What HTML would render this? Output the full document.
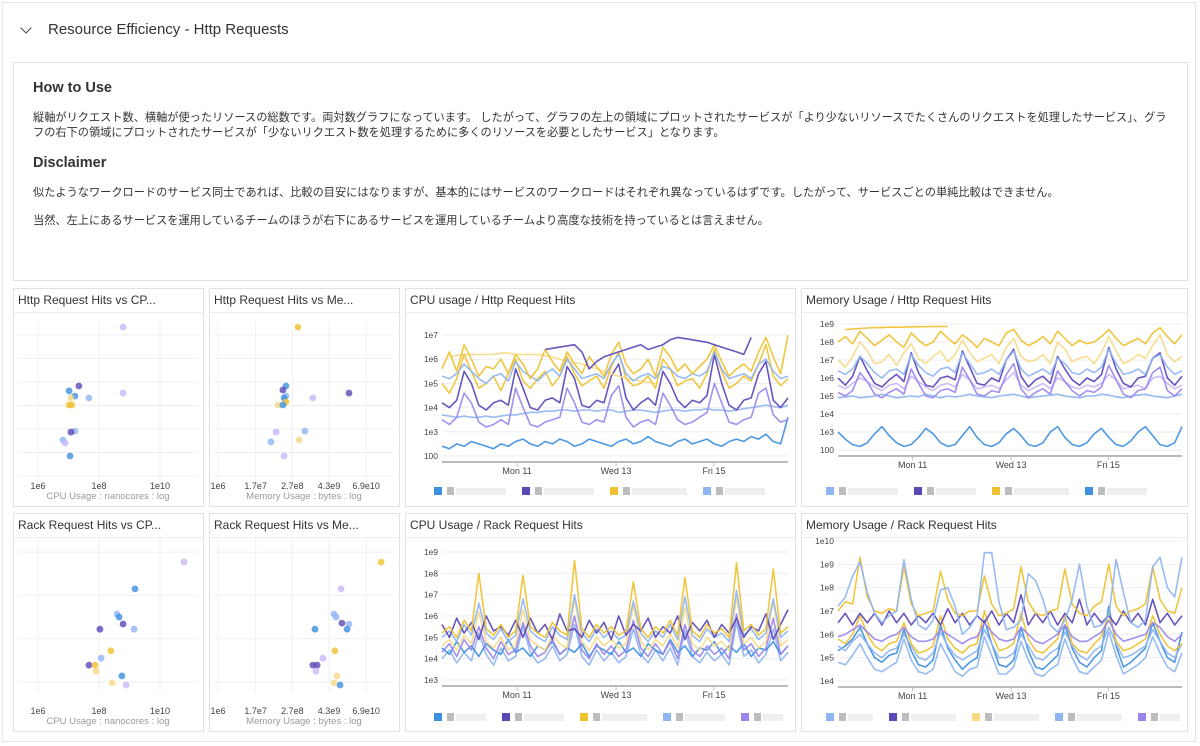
<!DOCTYPE html>
<html><head><meta charset="utf-8">
<style>
body{margin:0;width:1200px;height:746px;background:#fff;font-family:"Liberation Sans","Noto Sans CJK JP",sans-serif;position:relative;overflow:hidden}
#frame{position:absolute;left:2px;top:2px;width:1194px;height:740px;border:1px solid #e3e3e8;box-sizing:border-box}
#hdr{position:absolute;left:48px;top:21px;font-size:15px;color:#333}
#chev{position:absolute;left:22px;top:24px;width:7px;height:7px;border-right:1.6px solid #444;border-bottom:1.6px solid #444;transform:rotate(45deg)}
#note{position:absolute;left:13px;top:62px;width:1175px;height:219px;border:1px solid #e0e0e6;box-sizing:border-box;color:#333}
#note h3{position:absolute;left:19px;margin:0;font-size:14.5px;font-weight:bold}
#note p{position:absolute;left:19px;margin:0;font-size:11.2px;line-height:15px;width:1135px}
svg{position:absolute;left:0;top:0}
</style></head><body>
<div id="frame"></div>
<div id="chev"></div>
<div id="hdr">Resource Efficiency - Http Requests</div>
<div id="note">
<h3 style="top:17px">How to Use</h3>
<p style="top:48px">縦軸がリクエスト数、横軸が使ったリソースの総数です。両対数グラフになっています。 したがって、グラフの左上の領域にプロットされたサービスが「より少ないリソースでたくさんのリクエストを処理したサービス」、グラフの右下の領域にプロットされたサービスが「少ないリクエスト数を処理するために多くのリソースを必要としたサービス」となります。</p>
<h3 style="top:92px">Disclaimer</h3>
<p style="top:123px">似たようなワークロードのサービス同士であれば、比較の目安にはなりますが、基本的にはサービスのワークロードはそれぞれ異なっているはずです。したがって、サービスごとの単純比較はできません。</p>
<p style="top:151px">当然、左上にあるサービスを運用しているチームのほうが右下にあるサービスを運用しているチームより高度な技術を持っているとは言えません。</p>
</div>
<svg id="s" width="1200" height="746"></svg>
<script>
// ---------- data ----------
const C={b:'#3d8fe0',p:'#5b47b8',y:'#efc12f',lb:'#8fb5f2',lav:'#c8b6f7',ly:'#f6da86',mp:'#9a85ee'};
const sc1X=[8.79,8.79,7.02,7.34,7.21,7.08,7.02,7.11,7.67,7.21,7.08,6.82,6.89,7.05];
const sc1Y=[6.34,3.53,3.62,3.83,3.40,3.32,3.02,3.02,3.32,1.91,1.87,1.53,1.40,0.85];
const sc1C=['lav','lav','b','p','b','ly','y','y','lb','lb','p','lb','lav','b'];
const sc2X=[8.61,8.22,8.12,8.22,8.16,8.22,7.96,8.12,10.28,9.10,8.84,7.90,7.73,8.65,8.16];
const sc2Y=[6.34,3.83,3.66,3.40,3.32,3.15,3.02,3.02,3.53,3.32,1.91,1.87,1.45,1.53,0.85];
const sc2C=['y','b','p','lb','b','y','ly','b','p','lav','lb','lav','lb','ly','lav'];
const sc3X=[10.79,9.18,8.59,8.66,8.79,9.15,8.03,8.39,8.07,7.67,7.87,7.90,8.75,8.43,8.89];
const sc3Y=[3.77,3.15,2.57,2.50,2.34,2.22,2.22,1.72,1.55,1.39,1.39,1.25,1.14,0.98,0.93];
const sc3C=['lav','b','lb','b','p','lb','p','y','lb','p','y','ly','b','ly','lav'];
const sc4X=[11.33,10.02,9.79,9.86,10.05,10.28,10.22,9.17,9.82,9.43,9.10,9.24,9.20,9.89,9.79,9.99];
const sc4Y=[3.77,3.15,2.57,2.50,2.36,2.34,2.22,2.22,1.72,1.55,1.39,1.39,1.25,1.14,0.98,0.93];
const sc4C=['y','lav','lb','lb','p','lb','b','b','y','lav','p','p','lav','ly','ly','b'];
const cpuTicks=['1e6','1e8','1e10'], cpuTickV=[6,8,10];
const memTicks=['1e6','1.7e7','2.7e8','4.3e9','6.9e10'], memTickV=[6,7.23,8.43,9.63,10.84];
const dateLabels=['Mon 11','Wed 13','Fri 15'], dateFrac=[0.217,0.503,0.786];
const chS1=[2.4,2.3,2.5,2.4,2.6,2.5,2.4,2.3,2.5,2.4,2.6,2.7,2.5,2.4,2.6,2.5,2.7,2.6,2.4,2.5,2.7,2.6,2.5,2.4,2.6,2.7,2.5,2.6,2.8,2.6,2.5,2.4,2.6,2.7,2.5,2.6,2.7,2.5,2.4,2.6,2.7,2.6,2.8,2.7,2.9,2.6,2.5,3.6];
const chS2=[3.7,3.65,3.6,3.65,3.6,3.6,3.65,3.6,3.65,3.7,3.7,3.75,3.8,3.8,3.85,3.85,3.9,3.9,3.85,3.9,3.9,3.85,3.9,3.9,3.8,3.85,3.9,3.9,3.85,3.8,3.85,3.9,3.9,3.85,3.9,3.9,3.95,3.9,3.9,3.85,3.9,3.95,4.0,4.05,4.1,4.05,4.0,4.1];
const chS3=[3.5,3.3,3.6,4.6,4.2,3.4,3.2,3.3,3.5,3.3,4.8,4.0,3.3,3.2,3.4,3.5,3.6,4.8,4.2,3.4,3.3,3.5,3.4,4.5,4.9,3.6,3.2,3.4,3.5,3.3,4.6,4.1,3.5,3.3,3.4,3.6,3.8,5.0,4.2,3.4,3.3,3.5,3.6,4.6,4.8,3.7,3.4,3.5];
const chS4=[4.2,4.0,4.3,5.5,5.0,4.1,3.9,4.2,4.3,4.1,5.6,4.8,4.0,3.9,4.3,4.4,4.2,5.7,5.2,4.1,4.0,4.3,4.2,5.3,5.8,4.4,3.9,4.2,4.4,4.1,5.5,5.0,4.3,4.0,4.3,4.2,4.5,6.2,5.0,4.1,3.9,4.3,4.4,5.4,5.9,4.3,4.0,4.4];
const chS5=[5.6,6.3,5.5,6.6,6.0,5.3,5.7,5.6,6.0,5.4,6.2,5.8,5.2,5.6,6.4,5.9,5.5,6.3,5.8,5.4,6.1,5.7,5.3,6.2,6.7,5.8,5.4,5.6,6.0,5.3,6.5,6.1,5.5,5.8,5.4,5.7,6.0,6.6,5.9,5.3,5.6,5.8,5.5,6.3,6.9,6.1,5.4,7.0];
const chS6=[5.0,4.6,5.2,6.2,5.5,4.8,5.0,5.3,4.7,5.4,6.0,5.1,4.8,5.2,5.5,4.9,5.3,6.1,5.4,4.9,5.1,5.3,4.8,5.7,6.3,5.2,4.9,5.0,5.3,4.8,6.0,5.6,4.9,5.1,5.2,4.8,5.4,6.4,5.5,4.8,5.0,5.3,5.1,5.8,6.6,5.3,4.9,5.2];
const chS7=[5.3,5.2,5.4,5.8,5.5,5.2,5.0,5.3,5.4,5.1,5.9,5.5,5.3,5.1,5.4,5.6,5.3,6.0,5.6,5.2,5.3,5.4,5.2,5.8,6.2,5.4,5.1,5.3,5.4,5.2,5.7,5.6,5.3,5.2,5.4,5.3,5.5,6.3,5.6,5.2,5.3,5.4,5.2,5.8,6.0,5.5,5.2,5.3];
const chS8=[null,null,null,null,null,null,null,null,null,null,null,null,null,null,6.4,6.45,6.5,6.55,6.6,6.3,5.6,5.9,6.1,6.2,6.3,6.4,6.5,6.6,6.4,6.5,6.6,6.8,6.9,6.85,6.8,6.75,6.7,6.6,6.5,6.4,6.3,6.2,6.9,null,null,null,null,null];
const chS9=[null,6.1,6.15,6.2,6.2,6.2,6.2,6.2,6.25,6.25,6.2,6.2,6.2,6.2,6.15,6.1,6.0,5.9,5.85,5.8,5.7,5.6,5.5,5.4,5.3,5.2,5.15,5.1,5.05,5.0];
const mhS1=[3.0,2.6,2.3,2.2,2.4,2.9,3.3,2.8,2.4,2.2,2.3,2.7,3.2,2.9,2.4,2.2,2.3,2.8,3.3,2.7,2.3,2.2,2.4,2.9,3.2,2.8,2.3,2.2,2.4,3.0,3.3,2.7,2.3,2.2,2.4,2.9,3.2,2.7,2.3,2.2,2.5,3.0,3.3,2.8,2.3,2.2,2.4,3.3];
const mhS2=[4.9,4.95,5.0,4.9,4.95,5.0,5.1,5.0,4.9,4.95,5.0,4.95,5.1,5.0,4.9,5.0,4.95,5.0,5.1,5.0,4.95,4.9,5.0,5.05,5.1,5.0,4.9,4.95,5.0,5.05,5.1,5.0,4.95,4.9,5.0,5.0,5.1,5.05,4.95,4.9,5.0,5.05,5.1,5.0,4.95,4.9,5.0,5.1];
const mhS3=[5.2,5.0,5.3,6.3,5.8,5.1,4.9,5.2,5.4,5.1,6.5,5.7,5.0,4.9,5.3,5.4,5.2,6.6,5.9,5.1,5.0,5.3,5.2,6.2,6.8,5.4,4.9,5.2,5.4,5.1,6.4,5.8,5.3,5.0,5.3,5.2,5.5,6.7,5.9,5.1,4.9,5.3,5.4,6.3,6.6,5.3,5.0,5.4];
const mhS4=[8.0,8.3,7.9,8.6,8.2,7.8,8.1,8.4,8.0,7.7,8.5,8.1,7.8,8.0,8.6,8.2,7.9,8.4,8.1,7.7,8.2,8.0,7.8,8.5,8.7,8.1,7.8,8.0,8.3,7.9,8.6,8.2,7.8,8.1,7.9,8.0,8.3,8.7,8.2,7.8,8.0,8.2,7.9,8.5,8.8,8.3,7.9,8.4];
const mhS5=[7.0,6.6,7.2,8.0,7.5,6.8,6.9,7.3,6.7,7.4,7.9,7.1,6.8,7.2,7.5,6.9,7.3,8.1,7.4,6.9,7.1,7.3,6.8,7.7,8.2,7.2,6.9,7.0,7.3,6.8,8.0,7.6,6.9,7.1,7.2,6.8,7.4,8.3,7.5,6.8,7.0,7.3,7.1,7.8,8.4,7.3,6.9,7.2];
const mhS6=[6.4,6.2,6.5,7.2,6.8,6.3,6.0,6.4,6.5,6.2,7.3,6.7,6.3,6.1,6.5,6.6,6.3,7.4,6.8,6.2,6.3,6.5,6.2,7.0,7.5,6.5,6.1,6.3,6.5,6.2,7.1,6.8,6.3,6.2,6.5,6.3,6.6,7.6,6.8,6.2,6.3,6.5,6.2,7.1,7.3,6.6,6.2,6.4];
const mhS7=[6.0,5.6,6.1,7.2,6.4,5.7,5.5,5.9,6.2,5.8,7.4,6.3,5.6,5.5,6.0,6.1,5.9,7.5,6.6,5.7,5.6,6.0,5.8,7.0,7.6,6.1,5.5,5.9,6.1,5.7,7.2,6.5,5.9,5.6,6.0,5.8,6.2,7.7,6.5,5.7,5.5,6.0,6.1,7.1,7.4,6.0,5.6,6.1];
const mhS8=[5.6,5.4,5.7,6.0,5.8,5.5,5.3,5.6,5.7,5.4,6.1,5.8,5.5,5.3,5.6,5.7,5.5,6.2,5.9,5.4,5.5,5.6,5.4,5.9,6.3,5.6,5.3,5.5,5.7,5.4,6.0,5.8,5.5,5.4,5.6,5.5,5.7,6.2,5.9,5.4,5.5,5.6,5.4,6.0,6.1,5.7,5.4,5.6];
const mhS9=[null,8.7,8.72,8.75,8.78,8.8,8.8,8.82,8.82,8.83,8.84,8.85,8.85,8.86,8.86,8.86];
const crS1=[4.5,4.2,4.8,4.3,4.6,4.1,4.7,4.4,4.2,4.9,4.3,4.5,4.1,4.6,4.4,4.8,4.2,4.5,4.3,4.7,4.1,4.6,4.4,4.2,4.8,4.3,4.5,4.1,4.7,4.4,4.2,4.9,4.3,4.6,4.1,4.5,4.4,4.8,4.2,4.6,4.3,4.7,4.1,4.5,4.4,4.8,4.2,4.6];
const crS2=[5.6,5.0,5.9,5.2,5.7,4.9,6.0,5.3,5.5,5.1,5.8,5.0,5.9,5.2,5.6,4.9,6.1,5.3,5.4,5.0,5.8,5.2,5.7,4.9,6.0,5.1,5.6,5.3,5.9,5.0,5.5,5.2,6.0,4.9,5.7,5.3,5.8,5.0,5.6,5.2,5.9,5.0,5.5,5.3,6.1,4.9,5.6,6.3];
const crS3=[5.2,5.5,5.0,5.8,5.3,8.0,5.4,5.1,5.6,5.0,5.3,7.9,5.5,5.2,5.0,5.7,5.3,5.1,8.6,5.4,5.0,5.6,5.2,5.5,5.1,5.3,7.6,5.4,5.0,5.5,5.2,5.8,5.1,7.8,5.3,5.0,5.6,5.2,5.4,5.0,8.5,5.3,5.6,5.1,5.4,8.2,5.2,5.5];
const crS4=[4.6,4.9,4.4,5.1,4.7,6.2,4.8,4.5,5.0,4.4,4.7,6.3,4.9,4.6,4.4,5.1,4.7,4.5,6.8,4.8,4.4,5.0,4.6,4.9,4.5,4.7,6.5,4.8,4.4,4.9,4.6,5.2,4.5,6.4,4.7,4.4,5.0,4.6,4.8,4.4,6.9,4.7,5.0,4.5,4.8,6.7,4.6,4.9];
const crS5=[4.0,4.4,3.8,4.3,3.9,5.2,4.2,3.7,4.5,3.9,4.1,5.5,4.3,3.8,4.0,4.6,3.9,4.2,5.6,4.1,3.7,4.4,3.9,4.3,3.8,4.1,5.4,4.2,3.8,4.4,3.9,4.5,3.7,5.3,4.1,3.8,4.3,3.9,4.2,3.7,5.7,4.1,4.4,3.8,4.2,5.4,3.9,4.3];
const crS6=[4.3,4.7,4.1,4.9,4.4,5.5,4.5,4.0,4.8,4.2,4.4,5.7,4.6,4.1,4.3,4.9,4.2,4.5,6.0,4.4,4.0,4.7,4.2,4.6,4.1,4.4,5.8,4.5,4.1,4.7,4.2,4.8,4.0,5.6,4.4,4.1,4.6,4.2,4.5,4.0,6.1,4.4,4.7,4.1,4.5,5.9,4.2,4.6];
const crS7=[5.0,5.3,4.8,5.6,5.1,6.6,5.2,4.9,5.4,4.8,5.1,6.8,5.3,5.0,4.8,5.5,5.1,4.9,7.0,5.2,4.8,5.4,5.0,5.3,4.9,5.1,6.7,5.2,4.8,5.3,5.0,5.6,4.9,6.9,5.1,4.8,5.4,5.0,5.2,4.8,7.2,5.1,5.4,4.9,5.2,6.8,5.0,5.3];
const mrS1=[7.2,7.6,8.5,9.1,7.8,6.9,6.5,6.8,7.0,9.2,7.5,6.4,6.2,6.6,7.9,8.0,7.2,6.0,6.3,6.8,9.5,9.5,7.4,6.2,6.3,6.6,8.6,8.3,7.5,6.4,6.1,6.6,7.5,9.0,7.2,6.3,6.4,6.8,9.2,7.8,6.5,6.3,6.6,8.9,9.3,8.0,7.6,9.3];
const mrS2=[7.0,7.4,7.3,9.3,7.6,7.0,6.9,7.1,7.0,8.9,7.3,6.8,6.9,7.0,8.7,7.5,6.9,6.8,7.0,7.0,8.5,7.3,6.8,6.9,7.1,8.9,7.4,6.9,6.8,7.0,7.1,8.8,7.3,6.9,6.8,7.2,7.4,9.0,7.2,6.8,7.0,7.1,7.3,8.9,7.5,7.0,6.9,8.0];
const mrS3=[6.5,6.9,6.4,6.9,6.5,6.9,6.4,7.0,6.5,6.9,6.4,6.8,6.5,6.9,6.4,7.1,6.5,6.9,6.4,6.8,6.5,7.0,6.4,6.9,6.5,7.7,6.4,6.9,6.5,7.0,6.4,6.9,6.5,7.5,6.4,6.9,6.5,6.8,6.4,7.0,6.5,6.9,6.4,7.5,6.5,6.9,6.4,6.8];
const mrS4=[5.8,5.6,6.0,6.8,6.0,5.5,5.3,5.6,5.7,6.5,5.6,5.2,5.3,5.5,6.8,5.8,5.4,5.2,5.5,5.6,7.0,6.0,5.3,5.4,5.6,6.9,5.8,5.3,5.2,5.5,5.8,6.8,5.6,5.3,5.2,5.6,5.9,6.9,5.7,5.3,5.4,5.6,5.8,6.8,6.0,5.5,5.3,5.6];
const mrS5=[5.9,6.0,6.2,6.4,6.1,5.8,5.7,5.9,6.0,6.3,5.9,5.7,5.7,5.8,6.2,6.0,5.8,5.6,5.8,5.9,6.5,6.1,5.8,5.7,5.8,6.3,6.0,5.7,5.6,5.8,6.0,6.4,5.9,5.7,5.7,5.9,6.1,6.6,6.0,5.7,5.8,5.9,6.0,6.5,6.3,5.9,5.7,6.0];
const mrS6=[5.3,5.5,5.8,6.3,5.6,5.0,4.8,5.1,5.2,6.2,5.3,4.7,4.6,4.9,6.4,5.4,4.9,4.5,4.8,5.0,6.6,5.6,4.7,4.6,4.9,6.3,5.3,4.6,4.5,4.8,5.1,6.4,5.4,4.8,4.6,5.0,5.3,7.2,5.5,4.6,4.8,5.1,5.4,6.5,5.7,5.0,4.8,6.1];
const mrS7=[4.8,4.7,5.1,5.6,5.0,4.5,4.4,4.6,4.8,5.8,4.9,4.4,4.3,4.5,5.6,5.0,4.4,4.2,4.5,4.6,5.9,5.1,4.3,4.3,4.6,5.7,4.9,4.3,4.2,4.5,4.7,5.8,5.0,4.4,4.3,4.6,4.9,6.1,5.1,4.3,4.5,4.7,5.0,5.9,5.2,4.6,4.4,5.2];
const mrS8=[5.5,5.3,5.7,6.0,5.6,5.2,5.0,5.3,5.4,6.0,5.5,5.0,4.9,5.2,6.1,5.5,5.1,4.9,5.1,5.3,6.2,5.6,5.0,5.0,5.2,6.0,5.5,5.0,4.9,5.2,5.4,6.1,5.5,5.1,4.9,5.3,5.5,6.3,5.6,5.0,5.1,5.3,5.5,6.2,5.7,5.2,5.0,5.6];

// ---------- drawing ----------
const S=document.getElementById('s'),NS='http://www.w3.org/2000/svg';
function mk(tag,at,parent){const e=document.createElementNS(NS,tag);for(const k in at)e.setAttribute(k,at[k]);(parent||S).appendChild(e);return e;}
function txt(x,y,t,at,parent){const e=mk('text',Object.assign({x:x,y:y,'font-family':'Liberation Sans, sans-serif'},at),parent);e.textContent=t;return e;}

function panel(x,y,w,h,title,name){
  const g=mk('g',{});
  
  
  mk('rect',{x:x+.5,y:y+.5,width:w,height:h,fill:'#fff',stroke:'#e0e0e6'},g);
  mk('line',{x1:x+1,x2:x+w,y1:y+24.5,y2:y+24.5,stroke:'#ebebf0'},g);
  const t=txt(x+5,y+16,title,{'font-size':'12px',fill:'#333'},g);
  
  
  return g;
}

function scatter(g,xs,ys,cs,xTickV,xTickL,x0,pxDec,hLines,yB,yStep,labY,title,cx){
  const xf=v=>x0+(v-6)*pxDec, yf=v=>yB-v*yStep;
  hLines.forEach(v=>mk('line',{x1:cx-90,x2:cx+90,y1:yf(v),y2:yf(v),stroke:'#efeff3'},g));
  xTickV.forEach((v,i)=>{
    mk('line',{x1:xf(v),x2:xf(v),y1:yf(hLines[hLines.length-1])-14,y2:yf(hLines[0])+10,stroke:'#efeff3'},g);
    const t=txt(xf(v),labY,xTickL[i],{'font-size':'9px',fill:'#444','text-anchor':'middle'},g);
    
    
  });
  const at=txt(cx,labY+10,title,{'font-size':'9.5px',fill:'#9a9a9a','text-anchor':'middle'},g);
  
  
  xs.forEach((v,i)=>{
    const c=mk('circle',{cx:xf(v),cy:yf(ys[i]),r:3.4,fill:C[cs[i]],opacity:.8},g);
    
    
  });
}

function ts(g,series,cols,x0,x1,dmin,dmax,yTop,yBot,tickL,axisY,name){
  const pd=(yBot-yTop)/(dmax-dmin), yf=v=>yBot-(v-dmin)*pd;
  for(let v=dmin;v<=dmax;v++){
    mk('line',{x1:x0,x2:x1,y1:yf(v),y2:yf(v),stroke:'#eeeef2'},g);
    const t=txt(x0-4,yf(v)+3,tickL[v-dmin],{'font-size':'8.5px',fill:'#444','text-anchor':'end'},g);
    
    
  }
  mk('line',{x1:x0,x2:x1,y1:axisY,y2:axisY,stroke:'#bbb','stroke-width':2},g);
  dateLabels.forEach((d,i)=>{
    const x=x0+dateFrac[i]*(x1-x0);
    mk('line',{x1:x,x2:x,y1:axisY,y2:axisY+4,stroke:'#bbb'},g);
    const t=txt(x,axisY+12,d,{'font-size':'9px',fill:'#444','text-anchor':'middle'},g);
    
    
  });
  series.forEach((s,si)=>{
    const n=48;let d='',pen=false;
    s.forEach((v,i)=>{
      if(v===null||v===undefined){pen=false;return;}
      const x=x0+i/(n-1)*(x1-x0),y=yf(v);
      d+=(pen?'L':'M')+x.toFixed(1)+','+y.toFixed(1);pen=true;
    });
    const p=mk('path',{d:d,fill:'none',stroke:C[cols[si]],'stroke-width':1.6,'stroke-linejoin':'round',opacity:.92},g);
    
    
  });
}

function legend(g,x,y,items){
  let cx=x;
  items.forEach(it=>{
    const sq=mk('rect',{x:cx,y:y,width:8,height:8,fill:C[it[0]]},g);
    
    
    mk('rect',{x:cx+13,y:y,width:7,height:8,fill:'#bdbdbd'},g);
    mk('rect',{x:cx+22,y:y+1,width:it[1],height:7,fill:'#efefef'},g);
    cx+=it[1]+38;
  });
}

// row 1
let g=panel(13,288,190,218,'Http Request Hits vs CP...','http-vs-cpu-scatter');
scatter(g,sc1X,sc1Y,sc1C,cpuTickV,cpuTicks,38,30.5,[0,1,2,3,4,5,6],476,23.5,489,'CPU Usage : nanocores : log',108);
g=panel(209,288,190,218,'Http Request Hits vs Me...','http-vs-memory-scatter');
scatter(g,sc2X,sc2Y,sc2C,memTickV,memTicks,218,30.6,[0,1,2,3,4,5,6],476,23.5,489,'Memory Usage : bytes : log',304);
g=panel(405,288,390,218,'CPU usage / Http Request Hits','cpu-per-http-timeseries');
ts(g,[chS1,chS2,chS3,chS4,chS9,chS6,chS7,chS5,chS8],['b','lb','mp','p','ly','y','lb','y','p'],442,788,2,7,335,456,['100','1e3','1e4','1e5','1e6','1e7'],462,'cpu-http');
legend(g,434,487,[['b',50],['p',50],['y',55],['lb',40]]);
g=panel(801,288,386,218,'Memory Usage / Http Request Hits','memory-per-http-timeseries');
ts(g,[mhS1,mhS2,mhS8,mhS3,mhS7,mhS6,mhS5,mhS9,mhS4],['b','lb','lav','mp','p','lb','ly','y','y'],838,1182,2,9,324,450,['100','1e3','1e4','1e5','1e6','1e7','1e8','1e9'],456,'mem-http');
legend(g,826,487,[['lb',50],['p',40],['y',55],['b',40]]);
// row 2
g=panel(13,513,190,218,'Rack Request Hits vs CP...','rack-vs-cpu-scatter');
scatter(g,sc3X,sc3Y,sc3C,cpuTickV,cpuTicks,38,30.5,[1,2,3,4],725.3,43.3,714,'CPU Usage : nanocores : log',108);
g=panel(209,513,190,218,'Rack Request Hits vs Me...','rack-vs-memory-scatter');
scatter(g,sc4X,sc4Y,sc4C,memTickV,memTicks,218,30.6,[1,2,3,4],725.3,43.3,714,'Memory Usage : bytes : log',304);
g=panel(405,513,390,218,'CPU Usage / Rack Request Hits','cpu-per-rack-timeseries');
ts(g,[crS5,crS1,crS6,crS4,crS7,crS2,crS3],['lb','b','mp','ly','lb','p','y'],442,788,3,9,552,680,['1e3','1e4','1e5','1e6','1e7','1e8','1e9'],686,'cpu-rack');
legend(g,434,713,[['b',30],['p',40],['y',45],['lb',40],['mp',20]]);
g=panel(801,513,386,218,'Memory Usage / Rack Request Hits','memory-per-rack-timeseries');
ts(g,[mrS7,mrS6,mrS8,mrS4,mrS5,mrS3,mrS2,mrS1],['lb','b','lb','y','mp','p','y','lb'],838,1182,4,10,541,681,['1e4','1e5','1e6','1e7','1e8','1e9','1e10'],687,'mem-rack');
legend(g,826,713,[['lb',25],['p',45],['ly',45],['lb',45],['mp',20]]);
</script>
</body></html>
